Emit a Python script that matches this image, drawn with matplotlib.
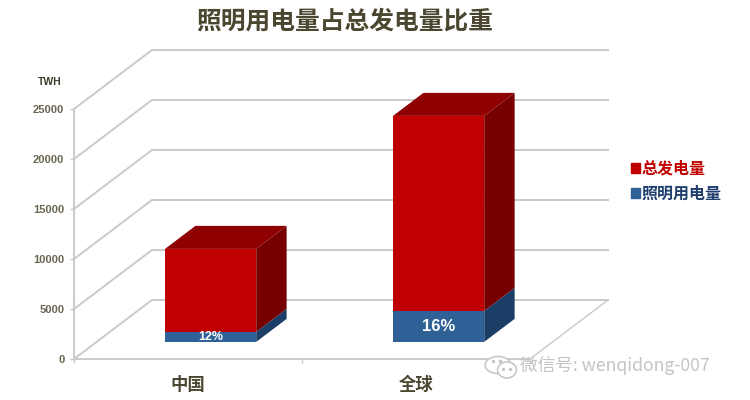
import matplotlib
matplotlib.use('Agg')
import matplotlib.pyplot as plt
from matplotlib.patches import Polygon, Ellipse, Patch

plt.rcParams['font.family'] = ['Noto Sans CJK SC', 'DejaVu Sans']

title = '照明用电量占总发电量比重'
categories = ['中国', '全球']
lighting = [1000, 3100]
generation = [8300, 19500]
shares = ['12%', '16%']
yticks = [0, 5000, 10000, 15000, 20000, 25000]
series_names = ['总发电量', '照明用电量']

# oblique 3d look: how far the back wall is shifted, in data units
depth_x = 0.342
depth_y = 5900
bar_width = 0.4
bar_d0 = 0.29
bar_d1 = 0.68

grid_col = '#cacaca'
text_col = '#6a6650'
red, red_top, red_side = '#c00000', '#8f0000', '#760000'
blue, blue_side = '#2f6096', '#1b3e66'


def proj(x, v, d):
    return (x + d * depth_x, v + d * depth_y)


fig = plt.figure(figsize=(7.5, 4), dpi=100)
ax = fig.add_axes([74 / 750, 41 / 400, 456 / 750, 250 / 400])
ax.set_xlim(-0.5, 1.5)
ax.set_ylim(0, 25000)
ax.patch.set_alpha(0)

for s in ['top', 'right']:
    ax.spines[s].set_visible(False)
for s in ['left', 'bottom']:
    ax.spines[s].set_color(grid_col)
    ax.spines[s].set_linewidth(1.4)

# walls and floor
for v in yticks:
    xs, ys = zip(proj(-0.5, v, 0), proj(-0.5, v, 1), proj(1.5, v, 1))
    ax.plot(xs, ys, color=grid_col, lw=1.4, clip_on=False, zorder=1)
xs, ys = zip(proj(1.5, 0, 0), proj(1.5, 0, 1))
ax.plot(xs, ys, color=grid_col, lw=1.0, clip_on=False, zorder=1)


def draw_box(x, bottom, top, front, side, cap=None):
    x0 = x - bar_width / 2
    x1 = x + bar_width / 2
    fx, fy = proj(x0, bottom, bar_d0)
    ax.bar(fx, top - bottom, width=bar_width, bottom=fy, align='edge',
           color=front, clip_on=False, zorder=3)
    ax.add_patch(Polygon([proj(x1, bottom, bar_d0), proj(x1, bottom, bar_d1),
                          proj(x1, top, bar_d1), proj(x1, top, bar_d0)],
                         closed=True, fc=side, ec='none', clip_on=False, zorder=3))
    if cap:
        ax.add_patch(Polygon([proj(x0, top, bar_d0), proj(x1, top, bar_d0),
                              proj(x1, top, bar_d1), proj(x0, top, bar_d1)],
                             closed=True, fc=cap, ec='none', clip_on=False, zorder=3))


for i, cat in enumerate(categories):
    low = lighting[i]
    draw_box(i, 0, low, blue, blue_side)
    draw_box(i, low, low + generation[i], red, red_side, red_top)
    lx, ly = proj(i, low / 2, bar_d0)
    ax.text(lx, ly, shares[i], color='white', ha='center', va='center',
            fontweight='bold', fontsize=9 if i == 0 else 12,
            family=['Liberation Sans', 'DejaVu Sans'], zorder=4)

ax.set_yticks(yticks)
ax.set_yticklabels([str(v) for v in yticks], fontsize=8, fontweight='bold', color=text_col,
                   family=['Liberation Sans', 'DejaVu Sans'])
ax.tick_params(axis='y', length=3, width=1, color=grid_col, pad=4)
ax.set_xticks([0, 1])
ax.set_xticklabels(categories, fontsize=12.5, fontweight='bold', color='#4a4630')
ax.tick_params(axis='x', length=0, pad=12)
ax.set_xticks([-0.5, 0.5, 1.5], minor=True)
ax.tick_params(axis='x', which='minor', length=3, width=1, color=grid_col)

handles = [Patch(color=red), Patch(color=blue)]
fig.legend(handles, series_names, loc='center left', bbox_to_anchor=(617 / 750, 1 - 181 / 400),
           frameon=False, prop={'weight': 'bold', 'size': 11.5},
           labelcolor=[red, '#1f3f6f'], handlelength=0.55, handleheight=0.55,
           handletextpad=0.1, labelspacing=0.55)

# title, unit and watermark live in a pixel-sized overlay
over = fig.add_axes([0, 0, 1, 1])
over.set_xlim(0, 750)
over.set_ylim(400, 0)
over.axis('off')
over.patch.set_alpha(0)
over.text(344.5, 22, title, ha='center', va='center', fontsize=17.8, fontweight='bold', color='#4a4630')
over.text(50, 82, 'TWH', ha='center', va='center', fontsize=7.5, fontweight='bold', color='#3c3a2c',
          family=['Liberation Sans', 'DejaVu Sans'])

wm = '#c4c4c4'
over.add_patch(Ellipse((498, 365), 26, 17, fc='white', ec=wm, lw=1.1, zorder=5))
over.add_patch(Ellipse((507, 370), 19, 16, fc='white', ec=wm, lw=1.1, zorder=5))
over.plot([503, 510], [369, 369], ls='none', marker='o', ms=1.3, color=wm, zorder=6)
over.plot([493, 500], [361, 361], ls='none', marker='o', ms=1.5, color=wm, zorder=6)
over.text(520, 366, '微信号: wenqidong-007', ha='left', va='center', fontsize=12.7, color=wm, zorder=6)

fig.savefig('out.png', dpi=100)
